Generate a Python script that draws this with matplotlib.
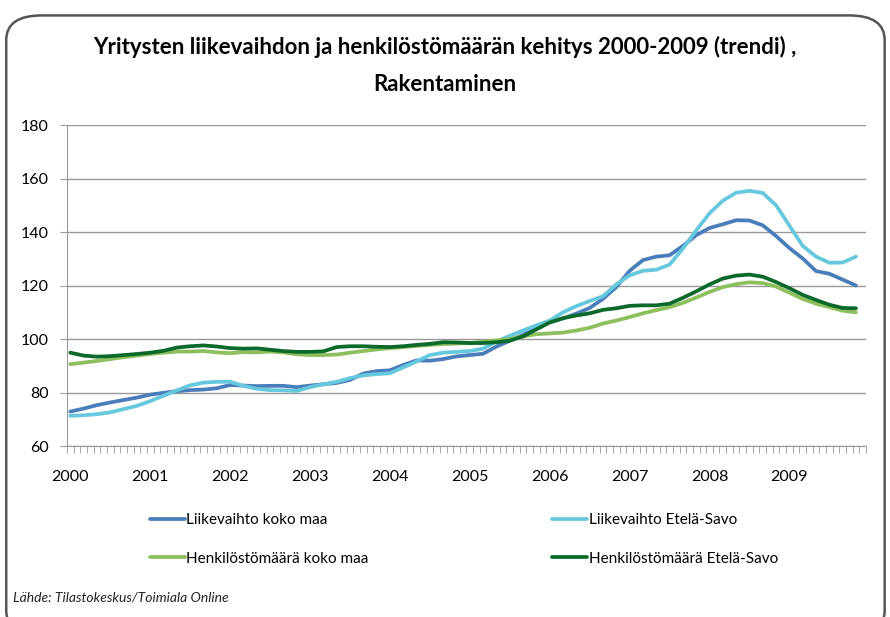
import numpy as np
import matplotlib.pyplot as plt
from matplotlib.lines import Line2D
from matplotlib.patches import FancyBboxPatch

plt.rcParams['font.family'] = ['Lato', 'DejaVu Sans']

# Trendi, kahden kuukauden välein (tammikuu 2000 -> marraskuu 2009)
years = ['2000', '2001', '2002', '2003', '2004', '2005', '2006', '2007', '2008', '2009']
months = np.arange(0, 120, 2)

liikevaihto_koko = [72.9, 74.0, 75.3, 76.3, 77.2, 78.1, 79.2, 79.9, 80.5, 80.9,
                    81.1, 81.6, 82.8, 82.6, 82.4, 82.5, 82.5, 82.0, 82.6, 83.1,
                    83.6, 84.7, 87.1, 88.0, 88.3, 90.3, 92.0, 91.9, 92.5, 93.5,
                    94.0, 94.5, 97.2, 99.3, 101.6, 104.0, 106.3, 107.7, 109.5, 111.6,
                    115.0, 119.4, 125.5, 129.5, 130.8, 131.3, 134.8, 138.8, 141.5, 142.9,
                    144.4, 144.3, 142.5, 138.5, 134.0, 130.1, 125.4, 124.4, 122.2, 120.0]
liikevaihto_es = [71.3, 71.5, 71.9, 72.6, 73.8, 75.0, 76.8, 78.8, 80.8, 82.7,
                  83.7, 84.0, 84.0, 82.5, 81.4, 80.9, 80.8, 80.6, 82.0, 83.1,
                  84.0, 85.4, 86.4, 86.9, 87.2, 89.4, 91.6, 94.0, 94.9, 95.2,
                  95.5, 96.4, 99.1, 101.2, 103.2, 105.1, 106.9, 110.0, 112.3, 114.2,
                  116.0, 120.4, 123.8, 125.5, 125.9, 127.8, 133.8, 140.6, 147.0, 151.7,
                  154.7, 155.4, 154.6, 150.0, 142.4, 134.8, 130.8, 128.5, 128.6, 130.8]
henkilosto_koko = [90.6, 91.2, 91.8, 92.5, 93.2, 93.8, 94.4, 94.9, 95.3, 95.3,
                   95.5, 95.0, 94.7, 95.1, 95.0, 95.3, 95.0, 94.3, 94.0, 94.0,
                   94.2, 94.9, 95.5, 96.1, 96.6, 97.0, 97.4, 97.8, 98.1, 98.3,
                   98.5, 99.0, 99.5, 100.0, 101.0, 101.8, 102.1, 102.4, 103.2, 104.2,
                   105.8, 106.9, 108.2, 109.6, 110.8, 111.9, 113.5, 115.5, 117.6, 119.4,
                   120.5, 121.2, 120.9, 119.6, 117.3, 115.0, 113.2, 111.9, 110.6, 110.0]
henkilosto_es = [94.9, 93.8, 93.4, 93.6, 94.0, 94.4, 94.9, 95.6, 96.8, 97.3,
                 97.6, 97.2, 96.6, 96.4, 96.5, 96.0, 95.5, 95.2, 95.2, 95.4,
                 97.0, 97.3, 97.3, 97.1, 97.0, 97.3, 97.8, 98.2, 98.8, 98.7,
                 98.5, 98.5, 98.8, 99.4, 101.0, 103.6, 106.2, 107.8, 108.8, 109.6,
                 110.9, 111.5, 112.4, 112.6, 112.6, 113.2, 115.4, 117.8, 120.4, 122.6,
                 123.7, 124.1, 123.3, 121.3, 119.0, 116.5, 114.6, 112.8, 111.6, 111.5]

fig = plt.figure(figsize=(8.9, 6.17), dpi=100)
ax = fig.add_axes([0.0753, 0.2771, 0.8977, 0.5203])

x = months + 0.5
l1, = ax.plot(x, liikevaihto_koko, color='#4A7EBB', lw=2.7, solid_capstyle='round')
l2, = ax.plot(x, liikevaihto_es, color='#66C8DC', lw=2.7, solid_capstyle='round')
l3, = ax.plot(x, henkilosto_koko, color='#8DBF5C', lw=2.7, solid_capstyle='round')
l4, = ax.plot(x, henkilosto_es, color='#0B6A2A', lw=2.7, solid_capstyle='round')

ax.set_xlim(0, 120)
ax.set_ylim(60, 180)
ax.set_yticks(range(60, 181, 20))
ax.grid(axis='y', color='#999999', lw=1)
ax.set_axisbelow(True)
ax.set_xticks(np.arange(0, 120, 12) + 0.5)
ax.set_xticklabels(years)
ax.set_xticks(np.arange(0, 121, 1), minor=True)
ax.tick_params(axis='x', which='major', length=0, pad=17, labelsize=11.5)
ax.tick_params(axis='x', which='minor', length=5, color='#999999', direction='out')
ax.tick_params(axis='y', length=5, color='#999999', labelsize=11.5, pad=8)
for s in ['top', 'right']:
    ax.spines[s].set_visible(False)
for s in ['left', 'bottom']:
    ax.spines[s].set_color('#999999')

fig.text(0.5, 0.924, 'Yritysten liikevaihdon ja henkilöstömäärän kehitys 2000-2009 (trendi) ,',
         ha='center', va='center', fontsize=16, fontweight='bold')
fig.text(0.5, 0.863, 'Rakentaminen', ha='center', va='center', fontsize=16, fontweight='bold')

fig.legend([l1, l3, l2, l4],
           ['Liikevaihto koko maa', 'Henkilöstömäärä koko maa',
            'Liikevaihto Etelä-Savo', 'Henkilöstömäärä Etelä-Savo'],
           ncol=2, loc='upper left', bbox_to_anchor=(0.168, 0.168),
           frameon=False, fontsize=11, handlelength=2.3, handletextpad=0.1,
           columnspacing=12.0, labelspacing=1.6, borderpad=0, borderaxespad=0)

fig.text(0.015, 0.032, 'Lähde: Tilastokeskus/Toimiala Online', fontsize=10,
         style='italic', va='center', color='#222222')

frame = FancyBboxPatch((0.007, -0.03), 0.987, 1.005, boxstyle='round,pad=0,rounding_size=0.04',
                       transform=fig.transFigure, fill=False, edgecolor='#555555', lw=1.8)
fig.add_artist(frame)

fig.savefig('out.png', dpi=100)
